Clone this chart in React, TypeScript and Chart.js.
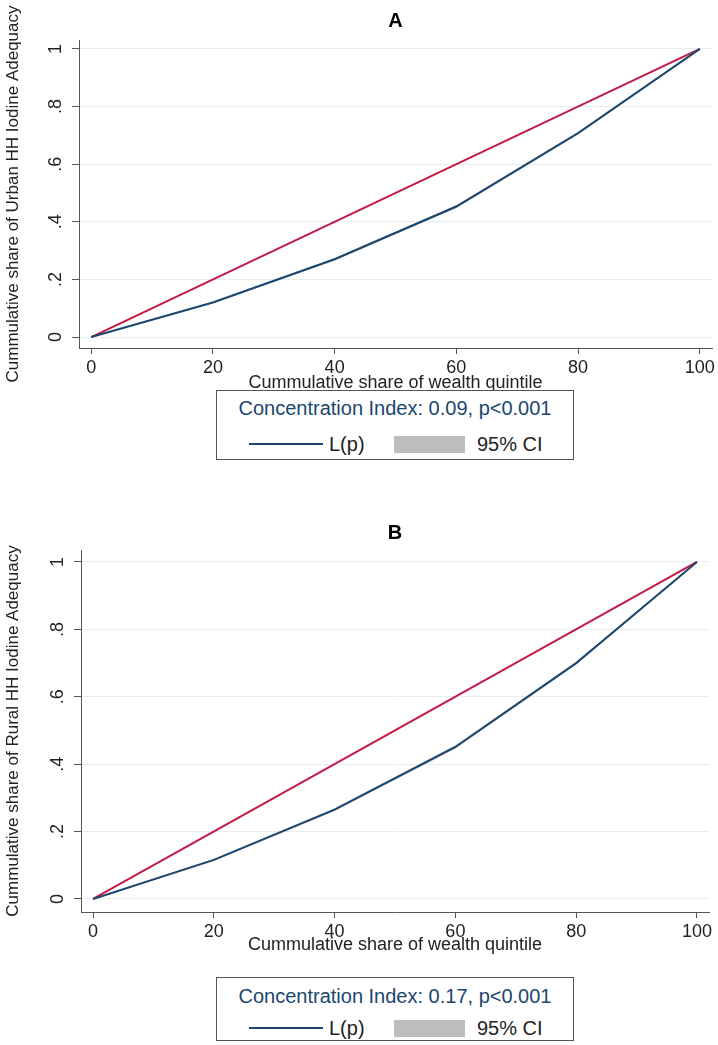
import React, { useEffect, useRef } from "react";
import { Chart, registerables } from "chart.js";

Chart.register(...registerables);

// ---- data ----
const quintileShare = [0, 20, 40, 60, 80, 100];
const xTicks = [0, 20, 40, 60, 80, 100];
const yTicks = [0, 0.2, 0.4, 0.6, 0.8, 1];
const yTickLabels = ["0", ".2", ".4", ".6", ".8", "1"];
const equalityX = [0, 100];
const equalityY = [0, 1];

const urbanLp = [0, 0.12, 0.27, 0.453, 0.708, 1];
const urbanLower = [0, 0.117, 0.266, 0.448, 0.704, 1];
const urbanUpper = [0, 0.123, 0.274, 0.458, 0.712, 1];

const ruralLp = [0, 0.116, 0.265, 0.451, 0.7, 1];
const ruralLower = [0, 0.113, 0.261, 0.446, 0.696, 1];
const ruralUpper = [0, 0.119, 0.269, 0.456, 0.704, 1];

const FONT = "'Liberation Sans', Arial, Helvetica, sans-serif";
const NAVY = "#1a476f";
const RED = "#c21a45";
const AXIS = "#555555";
const TEXT = "#222222";

type PanelProps = {
  top: number;
  height: number;
  title: string;
  yTitle: string;
  lp: number[];
  lower: number[];
  upper: number[];
  yMin: number;
  yMax: number;
  yAxisWidth: number;
  rightPad: number;
  titlePadTop: number;
  titlePadBottom: number;
  xAxisHeight: number;
  xTitlePadBottom: number;
};

function Panel(p: PanelProps) {
  const ref = useRef<HTMLCanvasElement | null>(null);
  useEffect(() => {
    if (!ref.current) return;
    const pts = (ys: number[]) => quintileShare.map((x, i) => ({ x, y: ys[i] }));
    const chart = new Chart(ref.current, {
      type: "line",
      data: {
        datasets: [
          {
            label: "upper",
            data: pts(p.upper),
            borderWidth: 0,
            borderColor: "rgba(0,0,0,0)",
            backgroundColor: "rgba(185,185,185,0.9)",
            pointRadius: 0,
            fill: "+1",
            order: 4,
          },
          {
            label: "lower",
            data: pts(p.lower),
            borderWidth: 0,
            borderColor: "rgba(0,0,0,0)",
            pointRadius: 0,
            fill: false,
            order: 3,
          },
          {
            label: "L(p)",
            data: pts(p.lp),
            borderColor: NAVY,
            borderWidth: 2,
            pointRadius: 0,
            fill: false,
            order: 1,
          },
          {
            label: "equality",
            data: equalityX.map((x, i) => ({ x, y: equalityY[i] })),
            borderColor: RED,
            borderWidth: 2,
            pointRadius: 0,
            fill: false,
            order: 2,
          },
        ],
      },
      options: {
        animation: false,
        responsive: false,
        layout: { padding: { top: 0, right: p.rightPad, left: 0, bottom: 0 } },
        plugins: {
          legend: { display: false },
          tooltip: { enabled: false },
          title: {
            display: true,
            text: p.title,
            fullSize: false,
            color: "#000",
            font: { family: FONT, size: 20, weight: "bold" },
            padding: { top: p.titlePadTop, bottom: p.titlePadBottom },
          },
        },
        scales: {
          x: {
            type: "linear",
            min: -2,
            max: 102,
            afterBuildTicks: (s: any) => {
              s.ticks = xTicks.map((v) => ({ value: v }));
            },
            afterFit: (s: any) => {
              s.height = p.xAxisHeight;
            },
            grid: { drawOnChartArea: false, drawTicks: true, tickLength: 6, tickColor: AXIS },
            border: { color: AXIS, width: 1 },
            ticks: {
              autoSkip: false,
              maxRotation: 0,
              padding: 3,
              color: TEXT,
              font: { family: FONT, size: 18 },
              callback: (v: any) => String(v),
            },
            title: {
              display: true,
              text: "Cummulative share of wealth quintile",
              color: TEXT,
              font: { family: FONT, size: 18 },
              padding: { top: 0, bottom: p.xTitlePadBottom },
            },
          },
          y: {
            type: "linear",
            min: p.yMin,
            max: p.yMax,
            afterBuildTicks: (s: any) => {
              s.ticks = yTicks.map((v) => ({ value: v }));
            },
            afterFit: (s: any) => {
              s.width = p.yAxisWidth;
            },
            grid: { color: "#e5edf0", lineWidth: 1, tickLength: 7, tickColor: AXIS },
            border: { color: AXIS, width: 1 },
            ticks: {
              minRotation: 90,
              maxRotation: 90,
              crossAlign: "center",
              padding: 8,
              color: TEXT,
              font: { family: FONT, size: 18 },
              callback: (_v: any, i: number) => yTickLabels[i],
            },
            title: {
              display: true,
              text: p.yTitle,
              color: TEXT,
              font: { family: FONT, size: 17 },
              padding: { top: 3, bottom: 0 },
            },
          },
        },
      },
    } as any);
    return () => chart.destroy();
  }, []);
  return (
    <canvas
      ref={ref}
      width={718}
      height={p.height}
      style={{ position: "absolute", left: 0, top: p.top, width: 718, height: p.height }}
    />
  );
}

function LegendBox({
  top,
  height,
  row1,
  row2,
  text,
}: {
  top: number;
  height: number;
  row1: number;
  row2: number;
  text: string;
}) {
  return (
    <div
      style={{
        position: "absolute",
        left: 216,
        top,
        width: 358,
        height,
        border: "1px solid #555",
        boxSizing: "border-box",
        fontFamily: FONT,
        background: "#fff",
      }}
    >
      <div
        style={{
          position: "absolute",
          left: 0,
          right: 0,
          top: row1 - 12,
          textAlign: "center",
          fontSize: 20,
          lineHeight: "24px",
          color: NAVY,
          whiteSpace: "nowrap",
        }}
      >
        {text}
      </div>
      <div style={{ position: "absolute", left: 32, top: row2 - 1, width: 74, height: 2, background: NAVY }} />
      <div style={{ position: "absolute", left: 112, top: row2 - 12, fontSize: 20, lineHeight: "24px", color: TEXT }}>
        L(p)
      </div>
      <div style={{ position: "absolute", left: 177, top: row2 - 8, width: 71, height: 17, background: "#bdbdbd" }} />
      <div style={{ position: "absolute", left: 260, top: row2 - 12, fontSize: 20, lineHeight: "24px", color: TEXT }}>
        95% CI
      </div>
    </div>
  );
}

export default function App() {
  return (
    <div style={{ position: "absolute", left: 0, top: 0, width: 718, height: 1045, background: "#fff" }}>
      <Panel
        top={0}
        height={400}
        title="A"
        yTitle="Cummulative share of Urban HH Iodine Adequacy"
        lp={urbanLp}
        lower={urbanLower}
        upper={urbanUpper}
        yMin={-0.038}
        yMax={1.031}
        yAxisWidth={79}
        rightPad={6}
        titlePadTop={9}
        titlePadBottom={7}
        xAxisHeight={52}
        xTitlePadBottom={6}
      />
      <LegendBox top={390} height={70} row1={17} row2={53} text="Concentration Index: 0.09, p<0.001" />
      <Panel
        top={500}
        height={462}
        title="B"
        yTitle="Cummulative share of Rural HH Iodine Adequacy"
        lp={ruralLp}
        lower={ruralLower}
        upper={ruralUpper}
        yMin={-0.0386}
        yMax={1.0356}
        yAxisWidth={81}
        rightPad={9}
        titlePadTop={21}
        titlePadBottom={5}
        xAxisHeight={50}
        xTitlePadBottom={6}
      />
      <LegendBox top={977} height={64} row1={18} row2={50} text="Concentration Index: 0.17, p<0.001" />
    </div>
  );
}
